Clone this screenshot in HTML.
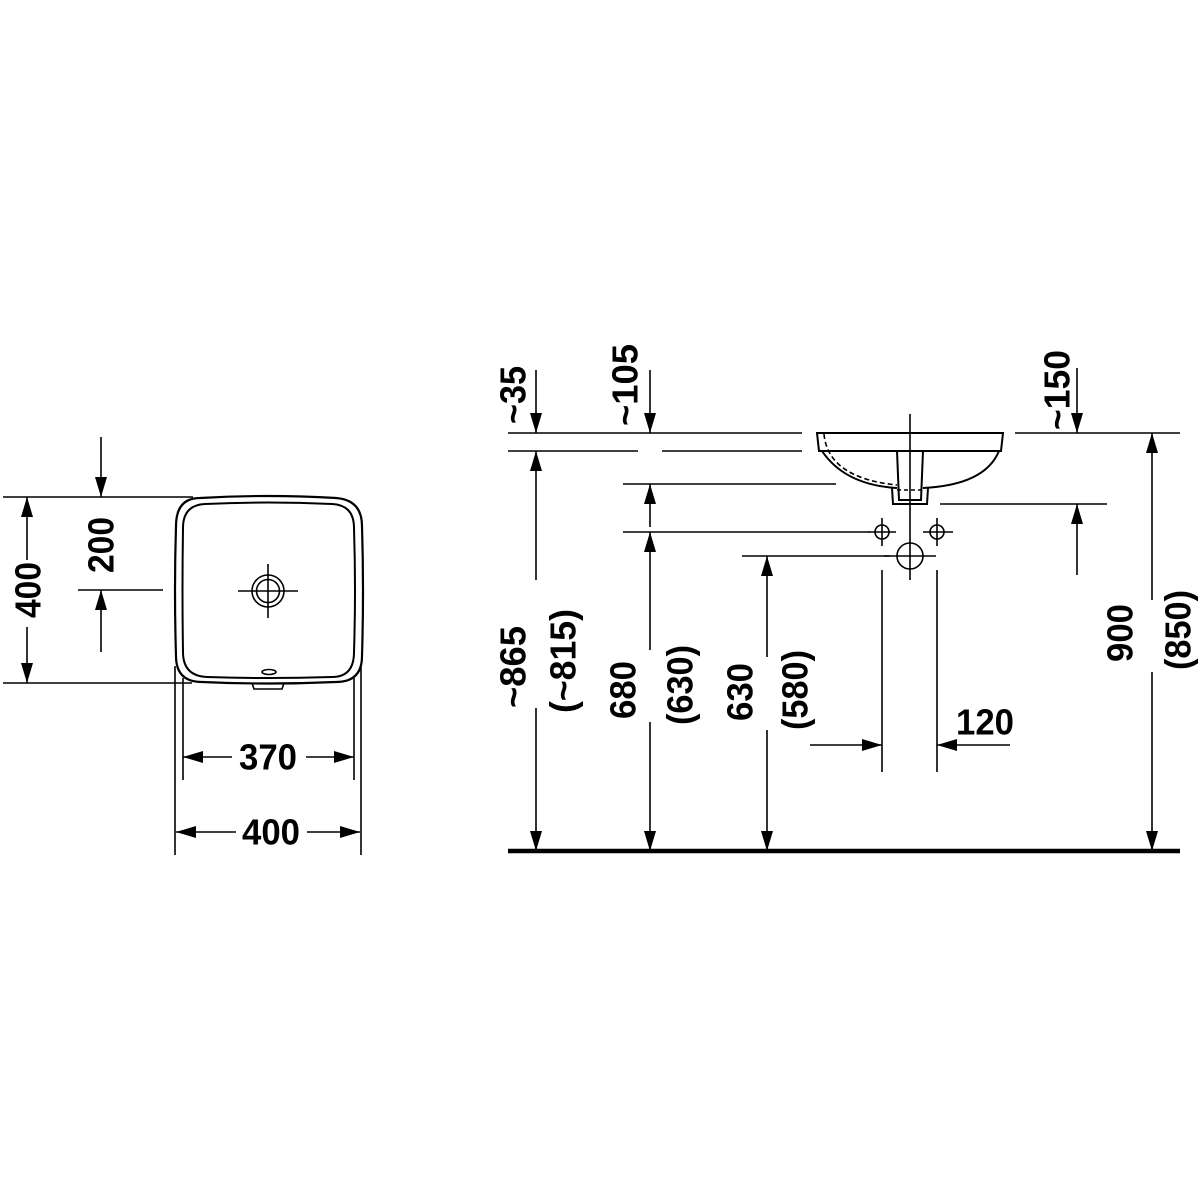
<!DOCTYPE html>
<html><head><meta charset="utf-8"><style>
html,body{margin:0;padding:0;background:#fff}
svg{display:block}
text{font-family:"Liberation Sans",sans-serif;font-weight:bold;font-size:36px;fill:#000}
</style></head><body>
<svg width="1200" height="1200" viewBox="0 0 1200 1200" xmlns="http://www.w3.org/2000/svg">
<defs>
<marker id="a" markerUnits="userSpaceOnUse" markerWidth="22" markerHeight="12" refX="20" refY="6" orient="auto">
<path d="M0,0 L20,6 L0,12 z" fill="#000"/>
</marker>
</defs>
<g stroke="#000" stroke-width="1.6" fill="none">
<path d="M200,498 Q268,494 336,498 Q362,500 362,526 Q364,590 362,656 Q362,682 336,682 Q268,685 202,682 Q176,682 176,656 Q174,590 176,526 Q176,498 200,498 Z" stroke-width="2.2"/>
<path d="M205,504 Q268,501 332,504 Q354,505 354,528 Q356,590 354,652 Q354,677 332,677 Q268,679 207,677 Q183,676 183,652 Q182,590 183,528 Q183,505 205,504 Z" stroke-width="2"/>
<ellipse cx="269" cy="672" rx="7" ry="2.5"/>
<path d="M252,683 L254,689 L282,689 L284,683"/>
<circle cx="268" cy="591" r="16"/>
<circle cx="268" cy="591" r="11.5"/>
<line x1="238" y1="591" x2="298" y2="591"/>
<line x1="268" y1="564" x2="268" y2="618"/>
<line x1="3" y1="497" x2="193" y2="497"/>
<line x1="3" y1="683" x2="192" y2="683"/>
<line x1="78" y1="590" x2="163" y2="590"/>
<line x1="27" y1="560" x2="27" y2="497" marker-end="url(#a)"/>
<line x1="27" y1="627" x2="27" y2="683" marker-end="url(#a)"/>
<line x1="101" y1="437" x2="101" y2="497" marker-end="url(#a)"/>
<line x1="101" y1="652" x2="101" y2="590" marker-end="url(#a)"/>
<line x1="175" y1="666" x2="175" y2="855"/>
<line x1="183" y1="678" x2="183" y2="780"/>
<line x1="354" y1="678" x2="354" y2="780"/>
<line x1="361" y1="666" x2="361" y2="855"/>
<line x1="232" y1="757" x2="183" y2="757" marker-end="url(#a)"/>
<line x1="306" y1="757" x2="354" y2="757" marker-end="url(#a)"/>
<line x1="236" y1="832" x2="176" y2="832" marker-end="url(#a)"/>
<line x1="307" y1="832" x2="360" y2="832" marker-end="url(#a)"/>

<line x1="508" y1="851" x2="1180" y2="851" stroke-width="4.5"/>
<line x1="508" y1="433" x2="802" y2="433"/>
<line x1="508" y1="451" x2="638" y2="451"/>
<line x1="662" y1="451" x2="802" y2="451"/>
<line x1="623" y1="484" x2="836" y2="484"/>
<line x1="623" y1="532" x2="870" y2="532"/>
<line x1="742" y1="556" x2="890" y2="556"/>
<line x1="1015" y1="433" x2="1180" y2="433"/>
<line x1="940" y1="504" x2="1107" y2="504"/>
<path d="M817,433 L1003,433 L1001,451 L819,451 Z" stroke-width="2"/>
<path d="M822,451 Q845,485 897,488" stroke-width="2"/>
<path d="M923,488 Q985,485 999,451" stroke-width="2"/>
<path d="M824,434 Q828,478 897,485" stroke-dasharray="5,3"/>
<path d="M897,451 L899,500 L921,500 L923,451" stroke-width="2"/>
<path d="M892,488 L893,504 L927,504 L928,488" stroke-width="2"/>
<line x1="897" y1="490" x2="923" y2="490" stroke-dasharray="4,3"/>
<line x1="910" y1="414" x2="910" y2="580"/>
<circle cx="882" cy="532" r="7"/>
<circle cx="937" cy="532" r="7"/>
<line x1="868" y1="532" x2="896" y2="532"/><line x1="882" y1="518" x2="882" y2="546"/>
<line x1="923" y1="532" x2="953" y2="532"/><line x1="937" y1="518" x2="937" y2="546"/>
<circle cx="910" cy="556" r="13"/>
<line x1="884" y1="556" x2="936" y2="556"/>
<line x1="882" y1="570" x2="882" y2="772"/>
<line x1="937" y1="570" x2="937" y2="772"/>
<line x1="810" y1="745" x2="882" y2="745" marker-end="url(#a)"/>
<line x1="1010" y1="745" x2="937" y2="745" marker-end="url(#a)"/>
<line x1="536" y1="370" x2="536" y2="433" marker-end="url(#a)"/>
<line x1="536" y1="580" x2="536" y2="451" marker-end="url(#a)"/>
<line x1="536" y1="708" x2="536" y2="851" marker-end="url(#a)"/>
<line x1="650" y1="370" x2="650" y2="433" marker-end="url(#a)"/>
<line x1="650" y1="527" x2="650" y2="484" marker-end="url(#a)"/>
<line x1="650" y1="650" x2="650" y2="532" marker-end="url(#a)"/>
<line x1="650" y1="722" x2="650" y2="851" marker-end="url(#a)"/>
<line x1="767" y1="657" x2="767" y2="556" marker-end="url(#a)"/>
<line x1="767" y1="730" x2="767" y2="851" marker-end="url(#a)"/>
<line x1="1077" y1="368" x2="1077" y2="433" marker-end="url(#a)"/>
<line x1="1077" y1="575" x2="1077" y2="504" marker-end="url(#a)"/>
<line x1="1152" y1="600" x2="1152" y2="433" marker-end="url(#a)"/>
<line x1="1152" y1="672" x2="1152" y2="851" marker-end="url(#a)"/>
</g>
<g text-anchor="middle" dominant-baseline="central">
<text x="268" y="757" textLength="58" lengthAdjust="spacingAndGlyphs">370</text>
<text x="271" y="832" textLength="58" lengthAdjust="spacingAndGlyphs">400</text>
<text x="985" y="722" textLength="58" lengthAdjust="spacingAndGlyphs">120</text>
<text transform="translate(28,590) rotate(-90)" textLength="56" lengthAdjust="spacingAndGlyphs">400</text>
<text transform="translate(101,545) rotate(-90)" textLength="56" lengthAdjust="spacingAndGlyphs">200</text>
<text transform="translate(513,395) rotate(-90)" textLength="58" lengthAdjust="spacingAndGlyphs">~35</text>
<text transform="translate(625,385) rotate(-90)" textLength="82" lengthAdjust="spacingAndGlyphs">~105</text>
<text transform="translate(1057,390) rotate(-90)" textLength="80" lengthAdjust="spacingAndGlyphs">~150</text>
<text transform="translate(513,667) rotate(-90)" textLength="82" lengthAdjust="spacingAndGlyphs">~865</text>
<text transform="translate(563,661) rotate(-90)" textLength="104" lengthAdjust="spacingAndGlyphs">(~815)</text>
<text transform="translate(623,690) rotate(-90)" textLength="58" lengthAdjust="spacingAndGlyphs">680</text>
<text transform="translate(680,685) rotate(-90)" textLength="80" lengthAdjust="spacingAndGlyphs">(630)</text>
<text transform="translate(740,692) rotate(-90)" textLength="58" lengthAdjust="spacingAndGlyphs">630</text>
<text transform="translate(795,690) rotate(-90)" textLength="80" lengthAdjust="spacingAndGlyphs">(580)</text>
<text transform="translate(1120,633) rotate(-90)" textLength="58" lengthAdjust="spacingAndGlyphs">900</text>
<text transform="translate(1178,630) rotate(-90)" textLength="80" lengthAdjust="spacingAndGlyphs">(850)</text>
</g>
</svg>
</body></html>
